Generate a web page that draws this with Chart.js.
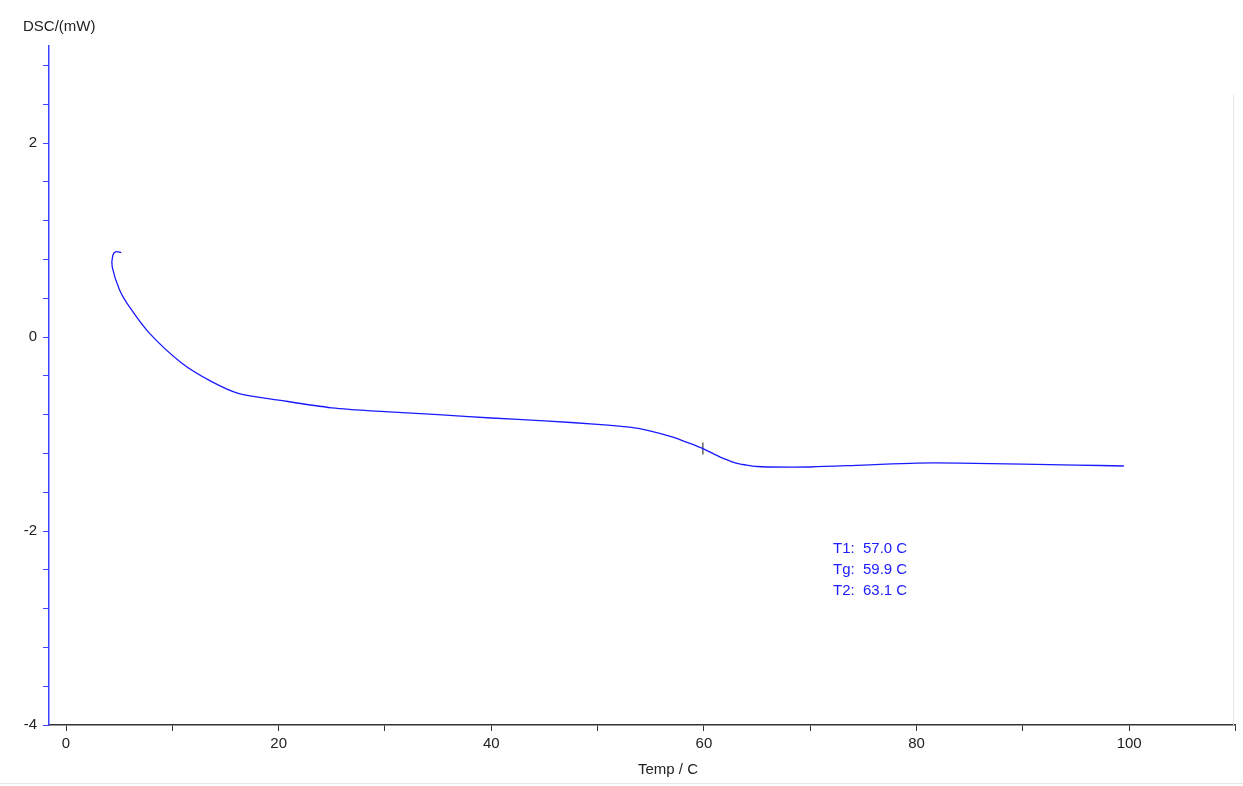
<!DOCTYPE html>
<html>
<head>
<meta charset="utf-8">
<script src="https://cdn.jsdelivr.net/npm/chart.js@4"></script>
<style>
  html, body { margin: 0; padding: 0; background: #fff; }
  #wrap { width: 1243px; height: 786px; position: relative; }
</style>
</head>
<body>
<div id="wrap"><canvas id="dsc"></canvas></div>
<script>
// DSC curve
const tempC = [5.2, 4.7, 4.4, 4.35, 5.04, 5.97, 7.84, 10.9, 13.7, 16.2, 20, 25, 30, 35, 40, 45, 50, 53, 55, 57, 58.5, 60, 61, 62, 63, 64, 65, 66, 70, 75, 80, 84, 90, 95, 99.5];
const dscMW = [0.87, 0.88, 0.84, 0.72, 0.485, 0.31, 0.04, -0.27, -0.46, -0.58, -0.65, -0.73, -0.77, -0.80, -0.835, -0.865, -0.90, -0.93, -0.97, -1.03, -1.09, -1.155, -1.21, -1.26, -1.30, -1.32, -1.335, -1.34, -1.34, -1.32, -1.30, -1.30, -1.31, -1.32, -1.33];

const tgMark = { x: 59.9, y: -1.15 };
const resultLabels = ['T1:  57.0 C', 'Tg:  59.9 C', 'T2:  63.1 C'];
const xMajor = [0, 20, 40, 60, 80, 100];
const yMajor = [2, 0, -2, -4];

const font = { family: "'Liberation Sans', Arial, sans-serif", size: 15 };

// text, title and frame bits that are not part of the scales
const extras = {
  id: 'extras',
  afterDraw(chart) {
    const { ctx, scales } = chart;
    ctx.save();
    ctx.font = "15px 'Liberation Sans', Arial, sans-serif";
    ctx.fillStyle = '#222';
    ctx.textBaseline = 'middle';
    ctx.textAlign = 'left';
    ctx.fillText('DSC/(mW)', 23, 27);
    ctx.textAlign = 'center';
    ctx.fillText('Temp / C', 668, 770);
    ctx.fillStyle = '#2020ff';
    ctx.textAlign = 'left';
    resultLabels.forEach((t, i) => ctx.fillText(t, 833, 549 + i * 21));
    // light frame lines
    ctx.strokeStyle = '#e6e6e6';
    ctx.lineWidth = 1;
    ctx.beginPath();
    ctx.moveTo(0, 783.5); ctx.lineTo(1243, 783.5);
    ctx.moveTo(1233.5, 95); ctx.lineTo(1233.5, 725);
    ctx.stroke();
    ctx.restore();
  }
};

function stepTicks(min, max, step) {
  const out = [];
  for (let v = Math.ceil(min / step) * step; v <= max + 1e-9; v += step) out.push({ value: +v.toFixed(4) });
  return out;
}

new Chart(document.getElementById('dsc'), {
  type: 'scatter',
  data: {
    datasets: [
      {
        data: tempC.map((t, i) => ({ x: t, y: dscMW[i] })),
        showLine: true,
        borderColor: '#1a1aff',
        borderWidth: 1.3,
        pointRadius: 0,
        tension: 0.3
      },
      {
        data: [tgMark],
        pointStyle: 'line',
        rotation: 90,
        pointRadius: 6,
        borderColor: '#666',
        borderWidth: 1.5,
        showLine: false
      }
    ]
  },
  options: {
    responsive: true,
    maintainAspectRatio: false,
    animation: false,
    layout: { padding: { top: 46, right: 0, left: 0, bottom: 0 } },
    plugins: { legend: { display: false }, tooltip: { enabled: false } },
    scales: {
      x: {
        type: 'linear', min: -1.6, max: 110,
        afterBuildTicks: s => { s.ticks = stepTicks(0, 110, 10); },
        afterFit: s => { s.height = 61; },
        ticks: {
          color: '#222', font, padding: 4, maxRotation: 0, autoSkip: false,
          callback: v => xMajor.includes(v) ? v : ''
        },
        grid: { drawOnChartArea: false, color: '#333', tickLength: 6 },
        border: { color: '#333', width: 1.5 }
      },
      y: {
        type: 'linear', min: -4, max: 3,
        afterBuildTicks: s => { s.ticks = stepTicks(-4, 3, 0.4); },
        afterFit: s => { s.width = 49; },
        ticks: {
          color: '#222', font, padding: 6, autoSkip: false,
          callback: v => yMajor.includes(Math.round(v * 100) / 100) && Math.abs(v - Math.round(v)) < 1e-6 ? Math.round(v) : ''
        },
        grid: { drawOnChartArea: false, color: '#4040ff', tickLength: 6 },
        border: { color: '#4040ff', width: 1.5 }
      }
    }
  },
  plugins: [extras]
});
</script>
</body>
</html>
